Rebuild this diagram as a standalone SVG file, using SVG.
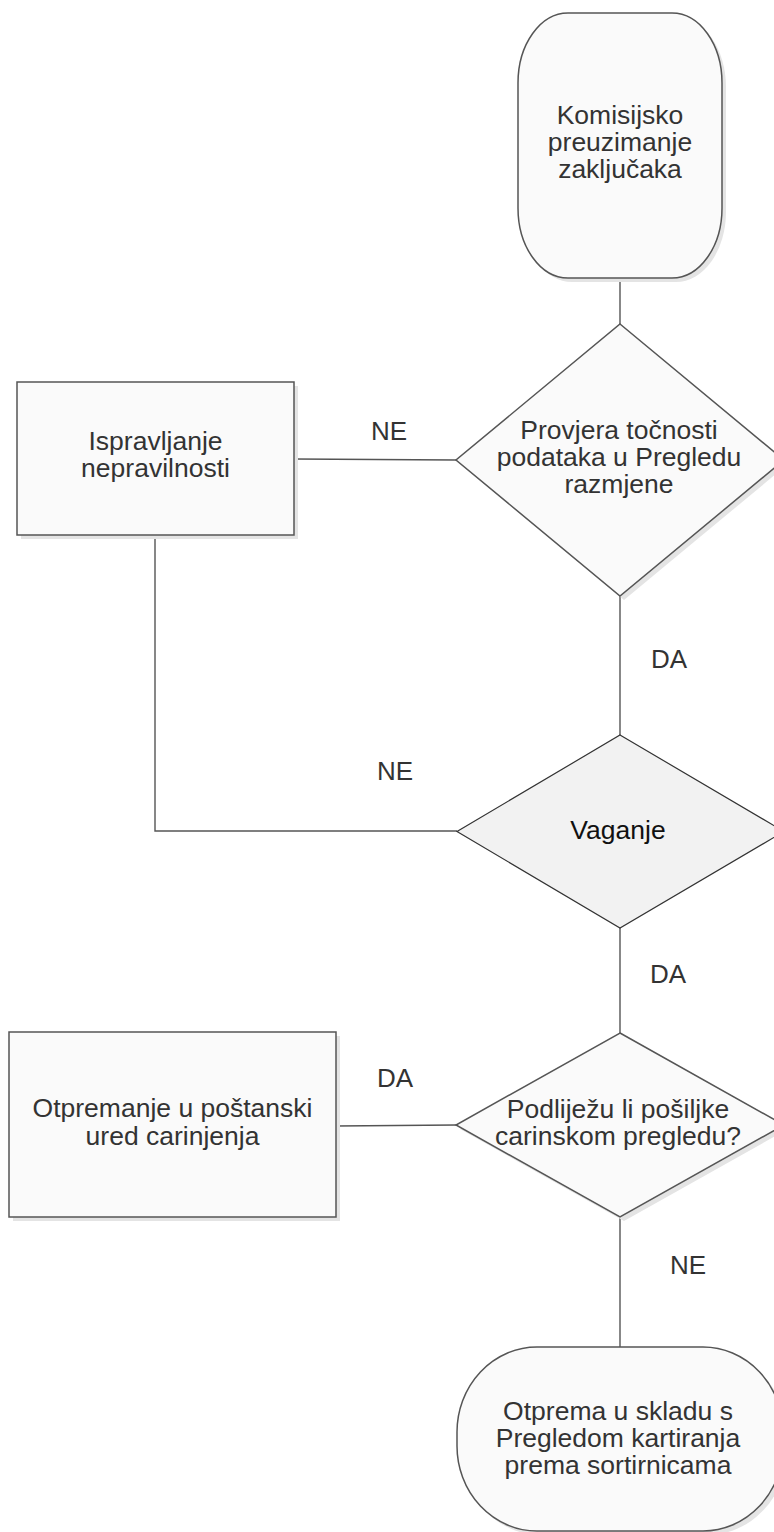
<svg xmlns="http://www.w3.org/2000/svg" width="774" height="1532" viewBox="0 0 774 1532">
<defs>
<style>
.node{fill:#fafafa;stroke:#555;stroke-width:1.5}
.shadow{fill:#e4e4e4;stroke:none}
.gray{fill:#f2f2f2;stroke:#333;stroke-width:1.2}
.t{font-family:"Liberation Sans",Arial,sans-serif;font-size:26.5px;fill:#333;text-anchor:middle}
.lbl{font-family:"Liberation Sans",Arial,sans-serif;font-size:26px;fill:#333;text-anchor:middle}
.c{fill:none;stroke:#555;stroke-width:1.4}
</style>
</defs>
<rect width="774" height="1532" fill="#ffffff"/>
<g id="connectors">
<line class="c" x1="620" y1="278" x2="620" y2="324"/>
<line class="c" x1="294" y1="459" x2="456" y2="460"/>
<polyline class="c" points="155,535 155,831 457,831"/>
<line class="c" x1="620" y1="596" x2="620" y2="735"/>
<line class="c" x1="620" y1="928" x2="620" y2="1033"/>
<line class="c" x1="336" y1="1126" x2="456" y2="1125"/>
<line class="c" x1="620" y1="1217" x2="620" y2="1347"/>
</g>
<g id="labels">
<text class="lbl" x="389" y="440">NE</text>
<text class="lbl" x="669" y="668">DA</text>
<text class="lbl" x="395" y="780">NE</text>
<text class="lbl" x="668" y="983">DA</text>
<text class="lbl" x="395" y="1087">DA</text>
<text class="lbl" x="688" y="1274">NE</text>
</g>
<g id="start">
<rect class="shadow" x="522" y="17" width="204" height="265" rx="50" ry="70"/>
<rect class="node" x="518" y="13" width="204" height="265" rx="50" ry="70"/>
<text class="t" x="620" y="124">Komisijsko</text>
<text class="t" x="620" y="151">preuzimanje</text>
<text class="t" x="620" y="178">zaključaka</text>
</g>
<g id="check">
<polygon class="shadow" points="624,328 788,464 624,600 460,464"/>
<polygon class="node" points="620,324 784,460 620,596 456,460"/>
<text class="t" x="619" y="439">Provjera točnosti</text>
<text class="t" x="619" y="466">podataka u Pregledu</text>
<text class="t" x="619" y="493">razmjene</text>
</g>
<g id="fix">
<rect class="shadow" x="21" y="386" width="277" height="153"/>
<rect class="node" x="17" y="382" width="277" height="153"/>
<text class="t" x="155.5" y="450">Ispravljanje</text>
<text class="t" x="155.5" y="477">nepravilnosti</text>
</g>
<g id="weigh">
<polygon class="gray" points="620,735 784,831.5 620,928 457,831.5"/>
<text class="t" x="618" y="839" style="fill:#111">Vaganje</text>
</g>
<g id="customs-check">
<polygon class="shadow" points="624,1037 788,1129 624,1221 460,1129"/>
<polygon class="node" points="620,1033 784,1125 620,1217 456,1125"/>
<text class="t" x="618" y="1118">Podliježu li pošiljke</text>
<text class="t" x="618" y="1145">carinskom pregledu?</text>
</g>
<g id="customs-office">
<rect class="shadow" x="13" y="1036" width="327" height="185"/>
<rect class="node" x="9" y="1032" width="327" height="185"/>
<text class="t" x="172.5" y="1117">Otpremanje u poštanski</text>
<text class="t" x="172.5" y="1145">ured carinjenja</text>
</g>
<g id="dispatch">
<rect class="shadow" x="461" y="1351" width="326" height="184" rx="80" ry="85"/>
<rect class="node" x="457" y="1347" width="326" height="184" rx="80" ry="85"/>
<text class="t" x="618" y="1420">Otprema u skladu s</text>
<text class="t" x="618" y="1447">Pregledom kartiranja</text>
<text class="t" x="618" y="1474">prema sortirnicama</text>
</g>
</svg>
